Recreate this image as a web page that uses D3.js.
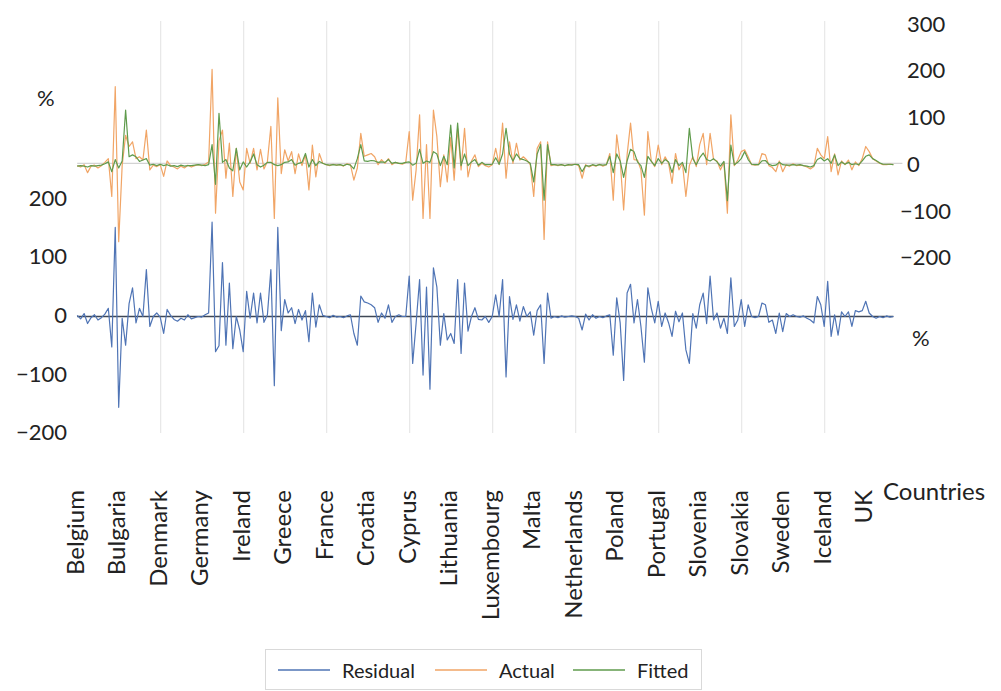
<!DOCTYPE html>
<html><head><meta charset="utf-8">
<script src="https://cdn.jsdelivr.net/npm/d3@7"></script>
<style>
body{margin:0;background:#fff;}
svg{display:block;font-family:Lato,'Open Sans',sans-serif;}
</style>
</head><body>
<svg id="c" width="1001" height="691"></svg>
<script>
// ---- DATA ----
const countries = ["Belgium","Bulgaria","Denmark","Germany","Ireland","Greece","France","Croatia","Cyprus","Lithuania",
  "Luxembourg","Malta","Netherlands","Poland","Portugal","Slovenia","Slovakia","Sweden","Iceland","UK"];
const pointsPerCountry = 12;
const gridEvery = 24;

const actual = [
  -5,-8,-3,-20,-6,-4,-10,-5,2,10,-71,164,          // Belgium
  -168,-5,60,36,46,10,14,7,71,-14,-4,-7,           // Bulgaria
  -3,-28,5,-5,-8,-12,-6,-10,-4,-8,-5,-3,           // Denmark
  -5,-2,3,201,-107,48,71,-32,43,-71,32,-40,        // Germany
  -57,32,0,32,-14,30,-12,4,79,-118,140,-22,        // Ireland
  29,5,25,-22,20,-5,18,-57,39,-29,21,0,            // Greece
  -3,-5,-2,-4,-3,-6,-1,-3,-36,-10,64,15,           // France
  18,21,14,-3,8,0,10,-3,2,0,-2,2,                  // Croatia
  68,-79,-14,104,-118,40,-118,114,57,-50,18,-40,   // Cyprus
  55,-36,75,-14,75,-29,5,18,-7,0,-5,-8,            // Lithuania
  -3,32,-3,86,-32,46,0,43,7,14,7,-3,               // Luxembourg
  -71,32,46,-163,46,-5,-3,-5,-3,-5,-4,-3,          // Malta
  -2,-5,-32,-3,-8,-4,-6,-2,-6,-3,21,-79,           // Netherlands
  61,5,-100,18,86,8,7,-14,-111,68,5,-7,            // Poland
  39,-3,14,0,-43,21,-14,0,-71,-5,14,-7,            // Portugal
  40,64,-3,64,8,5,-14,2,-107,104,-5,7,             // Slovenia
  25,29,14,-3,-4,-3,21,18,-5,-9,-18,5,             // Slovakia
  -18,-3,-6,-1,-5,-4,-5,-8,-12,-7,32,18,           // Sweden
  10,57,-18,20,-25,5,-3,7,-14,3,-5,10,             // Iceland
  36,25,10,5,0,-3,-3,-2,-3                         // UK
];
const fitted = [
  -6,-5,-6,-8,-5,-6,-5,-4,-1,3,-18,8,
  -10,5,114,14,18,14,4,7,10,-4,-2,-5,
  -2,-5,-3,-6,-5,-7,-4,-6,-5,-5,-4,-3,
  -4,-5,-3,40,-45,107,2,8,-10,-16,32,-14,
  3,-8,3,20,-3,-8,-4,2,2,-3,-5,-3,
  2,3,8,-4,0,2,21,-8,8,-5,4,0,
  -3,-4,-3,-4,-3,-5,-2,-4,-12,10,40,5,
  4,6,5,2,3,2,8,0,2,0,0,2,
  3,-4,0,30,0,5,2,25,20,-5,15,-3,
  82,-10,86,-5,20,-5,3,8,-4,2,-3,-3,
  -2,12,-2,20,75,20,5,20,10,8,5,0,
  -40,20,40,-79,40,-3,-3,-4,-3,-5,-3,-4,
  -2,-3,-18,-5,-6,-3,-5,-3,-4,-3,15,-20,
  20,5,-30,5,30,25,3,-5,-30,15,4,-5,
  10,0,8,3,-20,8,-5,2,-20,75,10,-3,
  12,22,8,5,10,3,-6,4,-80,39,-3,2,
  10,25,8,-2,-3,-3,5,6,-2,-5,-4,2,
  -3,-4,-4,-3,-4,-3,-5,-6,-8,-5,8,12,
  5,10,0,18,-5,3,-2,2,-3,-1,-3,5,
  15,18,10,6,1,-2,-2,-2,-3
];
const residual = [
  2,-4,5,-12,-2,3,-6,-2,4,14,-52,152,
  -155,-3,-49,22,49,-11,14,0,80,-17,0,6,
  -1,-29,12,2,-5,-8,-3,-6,3,-4,-2,0,
  -1,3,6,161,-60,-50,92,-49,57,-55,0,-23,
  -60,43,-3,40,-11,40,-10,3,80,-118,152,-24,
  29,6,15,-12,12,-6,10,-43,40,-18,20,2,
  0,-2,2,-1,0,-2,1,3,-29,-49,35,25,
  23,20,15,-10,6,-3,20,-10,0,3,0,0,
  69,-80,-11,63,-100,50,-124,83,50,-49,5,-40,
  -29,-46,63,-63,57,-25,0,15,-5,-6,0,-10,
  0,37,0,63,-103,34,-5,20,-8,17,0,8,
  -32,10,20,-80,40,-3,0,-2,1,-1,0,1,
  0,-3,-23,4,-6,3,-3,0,-2,1,3,-66,
  32,-11,-109,40,55,-11,29,-17,-78,49,14,-11,
  26,-17,6,-11,-34,9,-9,6,-57,-80,5,-20,
  20,40,-12,69,-6,6,-20,-3,-29,66,-17,-6,
  29,-17,20,0,-2,0,23,20,-10,-6,-29,6,
  -26,5,0,3,0,-1,1,-3,-6,-11,34,20,
  -17,60,-34,3,-32,8,0,8,-17,10,8,10,
  26,6,0,-3,0,-2,1,-1,0
];
const leftTicks = [-200,-100,0,100,200];
const rightTicks = [-200,-100,0,100,200,300];
const seriesNames = ["Residual","Actual","Fitted"];
const seriesColors = {Residual:"#4f74b5", Actual:"#f1a566", Fitted:"#5f9b4c"};

// ---- CHART ----
const svg = d3.select("#c");
const n = actual.length;
const x = d3.scaleLinear().domain([0, n-1]).range([77.2, 893.4]);
const yL = d3.scaleLinear().domain([-200,200]).range([433.7,199.3]);
const yR = d3.scaleLinear().domain([-200,300]).range([256.7,23.2]);
const gridTop = 21, gridBottom = 433;
const fmt = d3.format("d");
const txt = "#222";

// vertical gridlines
const gridIdx = d3.range(gridEvery, n, gridEvery);
svg.append("g").selectAll("line").data(gridIdx).join("line")
  .attr("x1", d=>x(d)+0.5).attr("x2", d=>x(d)+0.5)
  .attr("y1", gridTop).attr("y2", gridBottom)
  .attr("stroke", "#e3e3e3").attr("stroke-width", 1);

// secondary zero line
svg.append("line").attr("x1", x(0)).attr("x2", x(n-1)+9)
  .attr("y1", yR(0)).attr("y2", yR(0)).attr("stroke", "#c9c9c9").attr("stroke-width", 1);

// primary category axis at 0
svg.append("line").attr("x1", x(0)).attr("x2", x(n-1))
  .attr("y1", yL(0)).attr("y2", yL(0)).attr("stroke", "#3f4756").attr("stroke-width", 1.6);

const lineL = d3.line().x((d,i)=>x(i)).y(d=>yL(d));
const lineR = d3.line().x((d,i)=>x(i)).y(d=>yR(d));

svg.append("path").datum(residual).attr("d", lineL)
  .attr("fill","none").attr("stroke", seriesColors.Residual).attr("stroke-width",1.2).attr("stroke-linejoin","round");
svg.append("path").datum(actual).attr("d", lineR)
  .attr("fill","none").attr("stroke", seriesColors.Actual).attr("stroke-width",1.2).attr("stroke-linejoin","round");
svg.append("path").datum(fitted).attr("d", lineR)
  .attr("fill","none").attr("stroke", seriesColors.Fitted).attr("stroke-width",1.2).attr("stroke-linejoin","round");

// left tick labels
svg.append("g").selectAll("text").data(leftTicks).join("text")
  .attr("x", 67).attr("y", d=>yL(d)-2)
  .attr("text-anchor","end").attr("dominant-baseline","central")
  .attr("font-size", 22).attr("fill", txt)
  .text(d=>d3.format("d")(d));

// right tick labels (digits left-aligned, minus hanging)
svg.append("g").selectAll("text").data(rightTicks).join("text")
  .attr("x", d=> d<0 ? 900 : 907).attr("y", d=>yR(d))
  .attr("text-anchor","start").attr("dominant-baseline","central")
  .attr("font-size", 22).attr("fill", txt)
  .text(d=>fmt(d));

// unit labels
svg.append("text").attr("x", 37).attr("y", 97).attr("dominant-baseline","central")
  .attr("font-size", 22).attr("fill", txt).text("%");
svg.append("text").attr("x", 912).attr("y", 337).attr("dominant-baseline","central")
  .attr("font-size", 22).attr("fill", txt).text("%");

// category labels
svg.append("g").selectAll("text").data(countries).join("text")
  .attr("transform", (d,i)=>`translate(${x(i*pointsPerCountry)-3},490) rotate(-90)`)
  .attr("text-anchor","end").attr("dominant-baseline","central")
  .attr("font-size", 24).attr("fill", txt)
  .text(d=>d);

svg.append("text").attr("x", 883).attr("y", 500)
  .attr("font-size", 24).attr("fill", txt).text("Countries");

// legend
const lg = svg.append("g");
lg.append("rect").attr("x", 265.5).attr("y", 649.5).attr("width", 436).attr("height", 40)
  .attr("fill","#fff").attr("stroke","#d9d9d9");
const legendX = [278, 435, 573];
seriesNames.forEach((s,k)=>{
  lg.append("line").attr("x1", legendX[k]).attr("x2", legendX[k]+52)
    .attr("y1", 670).attr("y2", 670).attr("stroke", seriesColors[s]).attr("stroke-width", 1.3);
  lg.append("text").attr("x", legendX[k]+64).attr("y", 670).attr("dominant-baseline","central")
    .attr("font-size", 20).attr("fill", txt).text(s);
});
</script>
</body></html>
